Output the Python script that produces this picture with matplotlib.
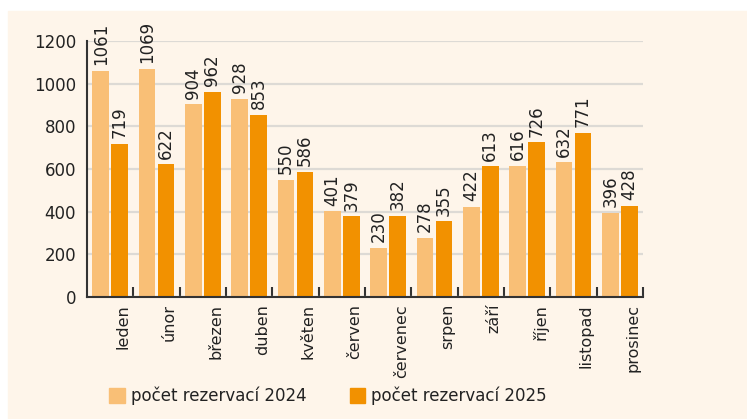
import numpy as np
import matplotlib
matplotlib.use("Agg")
import matplotlib.pyplot as plt
import matplotlib.transforms as mtransforms
from matplotlib.patches import Rectangle, Patch

# data
months = ["leden", "únor", "březen", "duben", "květen", "červen",
          "červenec", "srpen", "září", "říjen", "listopad", "prosinec"]
res_2024 = [1061, 1069, 904, 928, 550, 401, 230, 278, 422, 616, 632, 396]
res_2025 = [719, 622, 962, 853, 586, 379, 382, 355, 613, 726, 771, 428]
labels = ["počet rezervací 2024", "počet rezervací 2025"]

c_light = "#F9BF76"
c_dark = "#F29100"
bg = "#FEF5EA"
txt = "#222222"

plt.rcParams['font.family'] = ['DejaVu Sans']

fig = plt.figure(figsize=(7.47, 4.19), dpi=100, facecolor="white")
fig.patches.append(Rectangle((8 / 747, 0), 1, (419 - 11) / 419,
                             transform=fig.transFigure, color=bg, zorder=-10))

ax = fig.add_axes([87 / 747, (419 - 297) / 419, 556 / 747, 256 / 419])
ax.set_facecolor("none")

x = np.arange(len(months))
w = 0.36
off = 0.205
b1 = ax.bar(x - off, res_2024, w, color=c_light, zorder=3, label=labels[0])
b2 = ax.bar(x + off, res_2025, w, color=c_dark, zorder=3, label=labels[1])

for bars in (b1, b2):
    for r in bars:
        ax.annotate(str(int(r.get_height())),
                    (r.get_x() + r.get_width() / 2, r.get_height()),
                    xytext=(0, 4), textcoords="offset points",
                    rotation=90, ha="center", va="bottom",
                    fontsize=12, color=txt, annotation_clip=False)

ax.set_xlim(-0.5, len(months) - 0.5)
ax.set_ylim(0, 1200)
ax.set_yticks(range(0, 1201, 200))
ax.tick_params(axis="y", length=0, labelsize=12, labelcolor=txt, pad=8)
ax.yaxis.grid(True, color="#DDDAD5", linewidth=1.6, zorder=0)

ax.set_xticks(x)
ax.set_xticklabels(months, rotation=90, fontsize=11.5, color=txt, va="top", ha="center")
ax.tick_params(axis="x", length=0, pad=5)
shift = mtransforms.ScaledTranslation(13 / 100, 0, fig.dpi_scale_trans)
for lab in ax.get_xticklabels():
    lab.set_transform(lab.get_transform() + shift)

ax.set_xticks(np.arange(0.5, len(months)), minor=True)
ax.tick_params(axis="x", which="minor", direction="in", length=7, width=1.5, color="#333333")

for s in ("top", "right"):
    ax.spines[s].set_visible(False)
for s in ("left", "bottom"):
    ax.spines[s].set_color("#333333")
    ax.spines[s].set_linewidth(1.5)
    ax.spines[s].set_zorder(4)

handles = [Patch(color=c_light), Patch(color=c_dark)]
fig.legend(handles, labels, loc="center left", bbox_to_anchor=(94 / 747, 23 / 419),
           ncol=2, frameon=False, fontsize=12, handlelength=0.95, handleheight=0.95,
           handletextpad=0.35, columnspacing=2.6, labelcolor=txt)

fig.savefig("out.png", dpi=100, facecolor=fig.get_facecolor())
